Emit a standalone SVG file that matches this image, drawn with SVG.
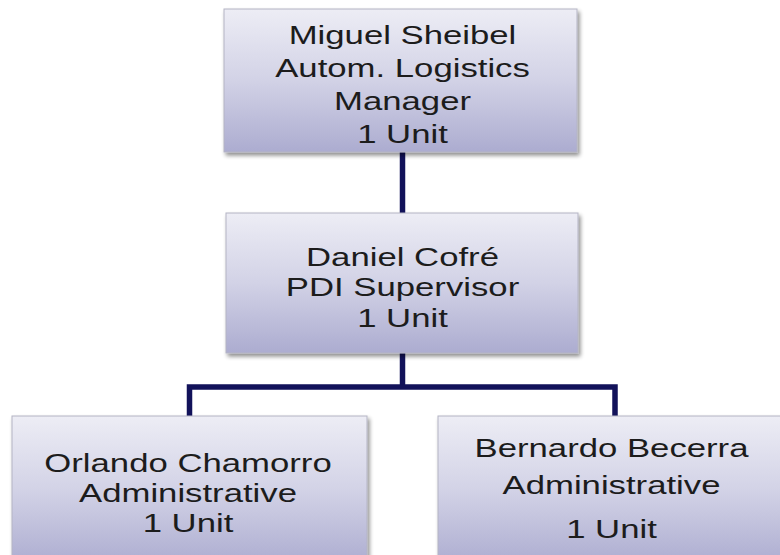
<svg xmlns="http://www.w3.org/2000/svg" width="780" height="555" viewBox="0 0 780 555">
  <defs>
    <linearGradient id="boxfill" x1="0" y1="0" x2="0" y2="1">
      <stop offset="0" stop-color="#ededf5"/>
      <stop offset="0.5" stop-color="#d2d2e6"/>
      <stop offset="1" stop-color="#acacd0"/>
    </linearGradient>
    <filter id="shadow" x="-5%" y="-5%" width="115%" height="120%">
      <feGaussianBlur in="SourceAlpha" stdDeviation="2"/>
      <feOffset dx="2" dy="3" result="b"/>
      <feComponentTransfer><feFuncA type="linear" slope="0.45"/></feComponentTransfer>
      <feMerge><feMergeNode/><feMergeNode in="SourceGraphic"/></feMerge>
    </filter>
  </defs>
  <style>
    .box { fill: url(#boxfill); stroke: #b4b4c4; stroke-width: 1; filter: url(#shadow); }
    .lbl { font-family: "Liberation Sans", Arial, sans-serif; font-size: 26.5px; fill: #1c1c1c; text-anchor: middle; }
    .conn { fill: none; stroke: #12125a; stroke-width: 5.5; stroke-linejoin: miter; }
  </style>
  <rect width="780" height="555" fill="#ffffff"/>

  <g id="connectors">
    <line class="conn" x1="402.5" y1="152" x2="402.5" y2="213"/>
    <line class="conn" x1="402.5" y1="353" x2="402.5" y2="387"/>
    <polyline class="conn" points="189.5,416 189.5,387 615,387 615,416"/>
  </g>

  <g id="node-miguel">
    <rect class="box" x="224" y="9" width="353" height="143"/>
    <g transform="matrix(1.31 0 0 1 402.5 0)">
      <text class="lbl" x="0" y="44">Miguel Sheibel</text>
      <text class="lbl" x="0" y="77">Autom. Logistics</text>
      <text class="lbl" x="0" y="110">Manager</text>
      <text class="lbl" x="0" y="143">1 Unit</text>
    </g>
  </g>

  <g id="node-daniel">
    <rect class="box" x="226" y="213" width="352" height="140"/>
    <g transform="matrix(1.31 0 0 1 402.5 0)">
      <text class="lbl" x="0" y="266">Daniel Cofré</text>
      <text class="lbl" x="0" y="296">PDI Supervisor</text>
      <text class="lbl" x="0" y="327">1 Unit</text>
    </g>
  </g>

  <g id="node-orlando">
    <rect class="box" x="12" y="416" width="355" height="150"/>
    <g transform="matrix(1.31 0 0 1 188 0)">
      <text class="lbl" x="0" y="472">Orlando Chamorro</text>
      <text class="lbl" x="0" y="502">Administrative</text>
      <text class="lbl" x="0" y="532">1 Unit</text>
    </g>
  </g>

  <g id="node-bernardo">
    <rect class="box" x="438" y="416" width="355" height="150"/>
    <g transform="matrix(1.31 0 0 1 611.5 0)">
      <text class="lbl" x="0" y="457">Bernardo Becerra</text>
      <text class="lbl" x="0" y="494">Administrative</text>
      <text class="lbl" x="0" y="538">1 Unit</text>
    </g>
  </g>
</svg>
